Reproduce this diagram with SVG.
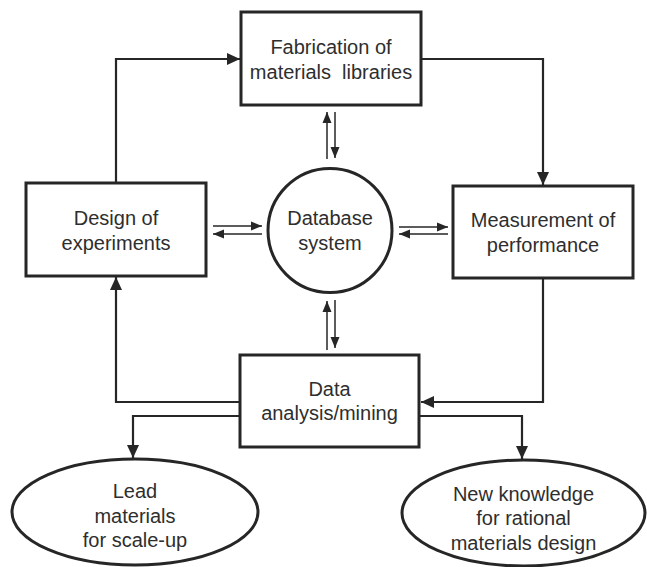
<svg xmlns="http://www.w3.org/2000/svg" width="647" height="567" viewBox="0 0 647 567">
<style>
.box{fill:#fff;stroke:#262626;stroke-width:3}
.conn{fill:none;stroke:#262626;stroke-width:2.2}
.thin{fill:none;stroke:#262626;stroke-width:1.5}
text{font-family:"Liberation Sans",Arial,sans-serif;font-size:20px;fill:#2e2e2e;text-anchor:middle}
</style>
<defs>
<marker id="ah" markerUnits="userSpaceOnUse" markerWidth="14" markerHeight="12" refX="13" refY="6" orient="auto">
<path d="M0,0 L13,6 L0,12 Z" fill="#262626"/>
</marker>
<marker id="sh" markerUnits="userSpaceOnUse" markerWidth="12" markerHeight="10" refX="11" refY="5" orient="auto">
<path d="M0,0.5 L11,5 L0,9.5 Z" fill="#262626"/>
</marker>
</defs>
<rect width="647" height="567" fill="#fff"/>
<g id="connectors">
<path class="conn" d="M116,183 V59 H240" marker-end="url(#ah)"/>
<path class="conn" d="M421,59 H543 V185" marker-end="url(#ah)"/>
<path class="conn" d="M543,278 V402 H421" marker-end="url(#ah)"/>
<path class="conn" d="M240,402 H116 V277" marker-end="url(#ah)"/>
<path class="conn" d="M240,416 H133 V458" marker-end="url(#ah)"/>
<path class="conn" d="M419,416 H522 V459" marker-end="url(#ah)"/>
<path class="thin" d="M327,159 V112" marker-end="url(#sh)"/>
<path class="thin" d="M335,112 V158" marker-end="url(#sh)"/>
<path class="thin" d="M213,226 H262" marker-end="url(#sh)"/>
<path class="thin" d="M262,234 H213" marker-end="url(#sh)"/>
<path class="thin" d="M399,227 H448" marker-end="url(#sh)"/>
<path class="thin" d="M448,234 H399" marker-end="url(#sh)"/>
<path class="thin" d="M327,350 V301" marker-end="url(#sh)"/>
<path class="thin" d="M335,300 V348" marker-end="url(#sh)"/>
</g>
<g id="fabrication">
<rect class="box" x="241" y="12" width="180" height="93"/>
<text x="331" y="54">Fabrication of</text>
<text x="331" y="79">materials&#160; libraries</text>
</g>
<g id="design">
<rect class="box" x="26" y="183" width="180" height="93"/>
<text x="116" y="225">Design of</text>
<text x="116" y="250">experiments</text>
</g>
<g id="database">
<circle class="box" cx="330" cy="230.5" r="62"/>
<text x="330" y="225">Database</text>
<text x="330" y="250">system</text>
</g>
<g id="measurement">
<rect class="box" x="453" y="186" width="180" height="92"/>
<text x="543" y="227">Measurement of</text>
<text x="543" y="252">performance</text>
</g>
<g id="analysis">
<rect class="box" x="240" y="355" width="179" height="92"/>
<text x="329.5" y="396">Data</text>
<text x="329.5" y="420">analysis/mining</text>
</g>
<g id="lead">
<ellipse class="box" cx="135" cy="512" rx="123" ry="53"/>
<text x="135" y="498">Lead</text>
<text x="135" y="523">materials</text>
<text x="135" y="547">for scale-up</text>
</g>
<g id="knowledge">
<ellipse class="box" cx="523.5" cy="513" rx="121.5" ry="53"/>
<text x="523.5" y="501">New knowledge</text>
<text x="523.5" y="525">for rational</text>
<text x="523.5" y="550">materials design</text>
</g>
</svg>
